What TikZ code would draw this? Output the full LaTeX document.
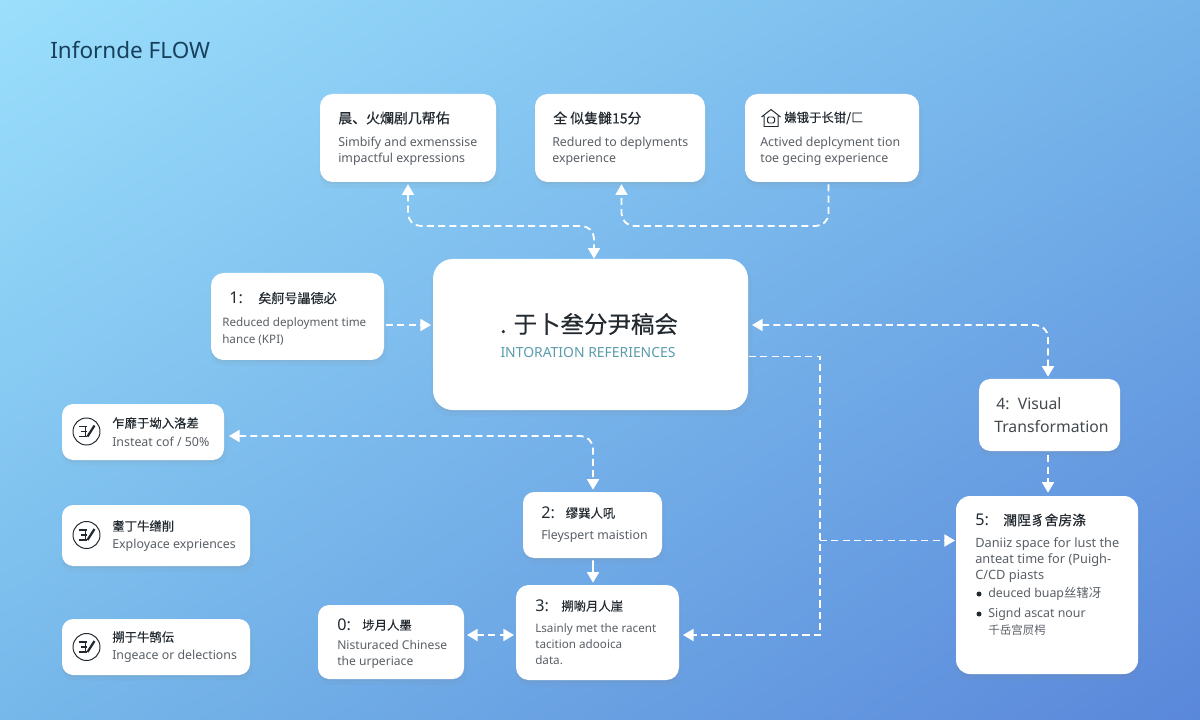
\documentclass[tikz,border=0pt]{standalone}
\usepackage{fontspec}
\setmainfont{Noto Sans}
\newfontfamily\cjk{Noto Sans CJK SC}
\newfontfamily\cjkhead[FakeBold=0.35]{Noto Sans CJK SC}
\usetikzlibrary{arrows.meta,shadows,shadings}
\definecolor{headcol}{HTML}{222A30}
\definecolor{bodycol}{HTML}{5A6066}
\definecolor{tealcol}{HTML}{5A9BAC}
\definecolor{titlecol}{HTML}{17405C}
\definecolor{skyA}{HTML}{9BDFFC}
\definecolor{skyB}{HTML}{74B4EA}
\definecolor{skyC}{HTML}{76B8EA}
\definecolor{skyD}{HTML}{5A87DA}
\tikzset{
  cardbox/.style 2 args={draw=none,fill=white,rounded corners=#2,minimum width=#1*0.025cm,inner sep=0pt,
    drop shadow={shadow xshift=1pt,shadow yshift=-3.5pt,shadow scale=1.02,opacity=0.06},
    drop shadow={shadow xshift=0pt,shadow yshift=-1.5pt,opacity=0.1}},
  headtext/.style={anchor=west,inner sep=0pt,text=headcol,font=\fontsize{8.8}{11}\selectfont\cjkhead},
  headwide/.style={headtext,font=\fontsize{9.9}{11}\selectfont\cjkhead},
  bodytext/.style={anchor=west,inner sep=0pt,align=left,text=bodycol,font=\fontsize{8.8}{11.4}\selectfont},
  bodysmall/.style={bodytext,font=\fontsize{8.3}{11.4}\selectfont},
  bodylarge/.style={bodytext,font=\fontsize{9.1}{11.2}\selectfont},
  digittext/.style={anchor=west,inner sep=0pt,text=headcol,font=\fontsize{11.5}{14}\selectfont},
  flowline/.style={draw=white,line width=1.3pt,dash pattern=on 5pt off 3pt,rounded corners=9pt},
  flowone/.style={flowline,-{Triangle[length=7.5pt,width=8.5pt,fill=white]}},
  flowtwo/.style={flowline,{Triangle[length=7.5pt,width=8.5pt,fill=white]}-{Triangle[length=7.5pt,width=8.5pt,fill=white]}},
  pics/noteicon/.style={code={
    \draw [headcol,line width=0.7pt] (0,0) circle (13.5);
    \draw [headcol,line width=0.8pt] (-8,5) -- (0,5) (-6,0) -- (0,0) (-8,-5) -- (0,-5) (-1,5) -- (-1,-5);
    \draw [headcol,line width=1.6pt] (1,-5) -- (8,6);
  }},
  pics/houseicon/.style={code={
    \draw [headcol,line width=0.7pt] (-9.5,1) -- (0,8.5) -- (9.5,1) (-7,2) -- (-7,-8.5) -- (7,-8.5) -- (7,2);
    \draw [headcol,line width=0.7pt,rounded corners=1pt] (-3.5,-5) rectangle (3.5,1);
  }},
}
\begin{document}
\begin{tikzpicture}[x=0.025cm,y=0.025cm]
\useasboundingbox (0,0) rectangle (1200,-720);
\shade [upper left=skyA,upper right=skyB,lower left=skyC,lower right=skyD] (0,0) rectangle (1200,-720);
\node [anchor=west,inner sep=0pt,text=titlecol,font=\fontsize{16}{18}\selectfont] (title) at (50,-50) {Infornde FLOW};
% cards
\node [cardbox={176}{9pt},minimum height=88*0.025cm] (simplify) at (408,-138) {};
\node [cardbox={170}{9pt},minimum height=88*0.025cm] (reduced) at (620,-138) {};
\node [cardbox={174}{9pt},minimum height=88*0.025cm] (actived) at (832,-138) {};
\node [cardbox={173}{9pt},minimum height=87*0.025cm] (kpi) at (297.5,-316.5) {};
\node [cardbox={315}{14pt},minimum height=151*0.025cm] (central) at (590.5,-334.5) {};
\node [cardbox={162}{8pt},minimum height=56*0.025cm] (insteat) at (143,-432) {};
\node [cardbox={188}{8pt},minimum height=61*0.025cm] (exploy) at (156,-535.5) {};
\node [cardbox={188}{8pt},minimum height=56*0.025cm] (ingeace) at (156,-647) {};
\node [cardbox={146}{8pt},minimum height=74*0.025cm] (stepzero) at (391,-642) {};
\node [cardbox={139}{8pt},minimum height=66*0.025cm] (steptwo) at (592.5,-525) {};
\node [cardbox={163}{9pt},minimum height=95*0.025cm] (stepthree) at (597.5,-632.5) {};
\node [cardbox={141}{8pt},minimum height=72*0.025cm] (stepfour) at (1049.5,-415) {};
\node [cardbox={182}{10pt},minimum height=178*0.025cm] (stepfive) at (1047,-585) {};
% card texts
\node [headwide] (simplifyhead) at (338,-118) {晨、火爛剧几帮佑};
\node [bodytext] (simplifytext) at (338,-151.5) {Simbify and exmenssise\\impactful expressions};
\node [headwide] (reducedhead) at (553,-118) {全 似隻雠15分};
\node [bodytext] (reducedtext) at (552,-151.5) {Redured to deplyments\\experience};
\pic at (771,-118) {houseicon};
\node [headtext] (activedhead) at (784,-118) {嫌锇于长钳/匚};
\node [bodytext] (activedtext) at (760,-151.5) {Actived deplcyment tion\\toe gecing experience};
\node [digittext] (kpidigit) at (229,-298) {1:};
\node [headtext,font=\fontsize{9.3}{11}\selectfont\cjkhead] (kpihead) at (258,-298) {矣舸号讄德必};
\node [bodysmall] (kpitext) at (222,-331.5) {Reduced deployment time\\hance (KPI)};
\node [inner sep=0pt,text=headcol,font=\fontsize{16.7}{18}\selectfont\cjkhead] (centralhead) at (589,-324) {. 于卜叁分尹稿会};
\node [inner sep=0pt,text=tealcol,font=\fontsize{9.9}{11}\selectfont] (centraltext) at (588,-353) {INTORATION REFERIENCES};
\pic at (86.5,-431.5) {noteicon};
\node [headtext] (insteathead) at (112,-423) {乍靡于坳入洛差};
\node [bodytext] (insteattext) at (112,-441.5) {Insteat cof / 50\%};
\pic at (86.5,-535) {noteicon};
\node [headtext] (exployhead) at (112,-526) {耋丁牛缮削};
\node [bodytext] (exploytext) at (112,-545.5) {Exployace expriences};
\pic at (86.5,-647) {noteicon};
\node [headtext] (ingeacehead) at (112,-637) {搠于牛鹄伝};
\node [bodytext] (ingeacetext) at (112,-656.5) {Ingeace or delections};
\node [digittext] (zerodigit) at (337,-625) {0:};
\node [headtext] (zerohead) at (362,-625) {埗月人墨};
\node [bodytext,font=\fontsize{8.6}{11.4}\selectfont] (zerotext) at (337,-654.5) {Nisturaced Chinese\\the urperiace};
\node [digittext] (twodigit) at (541,-513) {2:};
\node [headtext] (twohead) at (565.5,-513) {缪巽人吼};
\node [bodytext] (twotext) at (541,-536) {Fleyspert maistion};
\node [digittext] (threedigit) at (535,-606) {3:};
\node [headtext] (threehead) at (561,-606) {搠喲月人崖};
\node [bodysmall] (threetext) at (535,-644.5) {Lsainly met the racent\\tacition adooica\\data.};
\node [anchor=west,inner sep=0pt,align=left,text=headcol!85,font=\fontsize{11.2}{16.3}\selectfont] (fourtext) at (994,-415.5) {\hspace*{1.5pt}4:\ \ Visual\\Transformation};
\node [digittext] (fivedigit) at (975,-520) {5:};
\node [headtext,font=\fontsize{9.8}{11}\selectfont\cjkhead] (fivehead) at (1003,-520) {濶陧豸舍房涤};
\node [bodylarge] (fivetext) at (975,-560) {Daniiz space for lust the\\anteat time for (Puigh-\\C/CD piasts};
\fill [headcol] (979,-594) circle (2.5);
\node [bodytext] (fivebulletA) at (988,-594) {deuced buap{\cjk 丝辖冴}};
\fill [headcol] (979,-614) circle (2.5);
\node [bodytext] (fivebulletB) at (988,-614) {Signd ascat nour};
\node [bodytext,font=\fontsize{8.2}{11.3}\selectfont\cjk] (fivebulletC) at (988,-630) {千岳宫屃枵};
% connectors
\coordinate (simplifyfoot) at ([yshift=-2*0.025cm]simplify.south);
\coordinate (centraltop) at ([xshift=3.5*0.025cm]central.north);
\draw [flowtwo] (simplifyfoot) -- (408,-226) -- (594,-226) -- (centraltop);
\coordinate (reducedfoot) at ([xshift=1.5*0.025cm,yshift=-2*0.025cm]reduced.south);
\coordinate (activedfoot) at ([xshift=-3.5*0.025cm,yshift=-2*0.025cm]actived.south);
\draw [flowone] (activedfoot) -- (828.5,-226) -- (621.5,-226) -- (reducedfoot);
\coordinate (kpiside) at (386,-325);
\coordinate (centralleft) at (431,-325);
\draw [flowone] (kpiside) -- (centralleft);
\coordinate (centralright) at (752,-325);
\coordinate (fourtop) at ([xshift=-1.5*0.025cm,yshift=2*0.025cm]stepfour.north);
\draw [flowtwo] (centralright) -- (1048,-325) -- (fourtop);
\coordinate (insteatside) at (229,-436);
\coordinate (twotop) at ([xshift=0.5*0.025cm,yshift=2*0.025cm]steptwo.north);
\draw [flowtwo] (insteatside) -- (593,-436) -- (twotop);
\coordinate (twofoot) at ([xshift=0.5*0.025cm,yshift=-2*0.025cm]steptwo.south);
\coordinate (threetop) at ([xshift=-4.5*0.025cm,yshift=2*0.025cm]stepthree.north);
\draw [flowone,dash pattern=on 8pt off 0pt] (twofoot) -- (threetop);
\coordinate (fourfoot) at ([xshift=-1.5*0.025cm,yshift=-4*0.025cm]stepfour.south);
\coordinate (fivetop) at ([xshift=1*0.025cm,yshift=3*0.025cm]stepfive.north);
\draw [flowone] (fourfoot) -- (fivetop);
\coordinate (zeroside) at (467,-635);
\coordinate (threeleft) at (514,-635);
\draw [flowtwo] (zeroside) -- (threeleft);
\coordinate (centralexit) at (749,-356.5);
\coordinate (threeright) at (683,-635);
\draw [flowone,rounded corners=0pt] (centralexit) -- (820,-356.5) -- (820,-635) -- (threeright);
\coordinate (branchstart) at (820,-540.5);
\coordinate (fiveleft) at (955,-540.5);
\draw [flowone,rounded corners=0pt] (branchstart) -- (fiveleft);
\end{tikzpicture}
\end{document}
